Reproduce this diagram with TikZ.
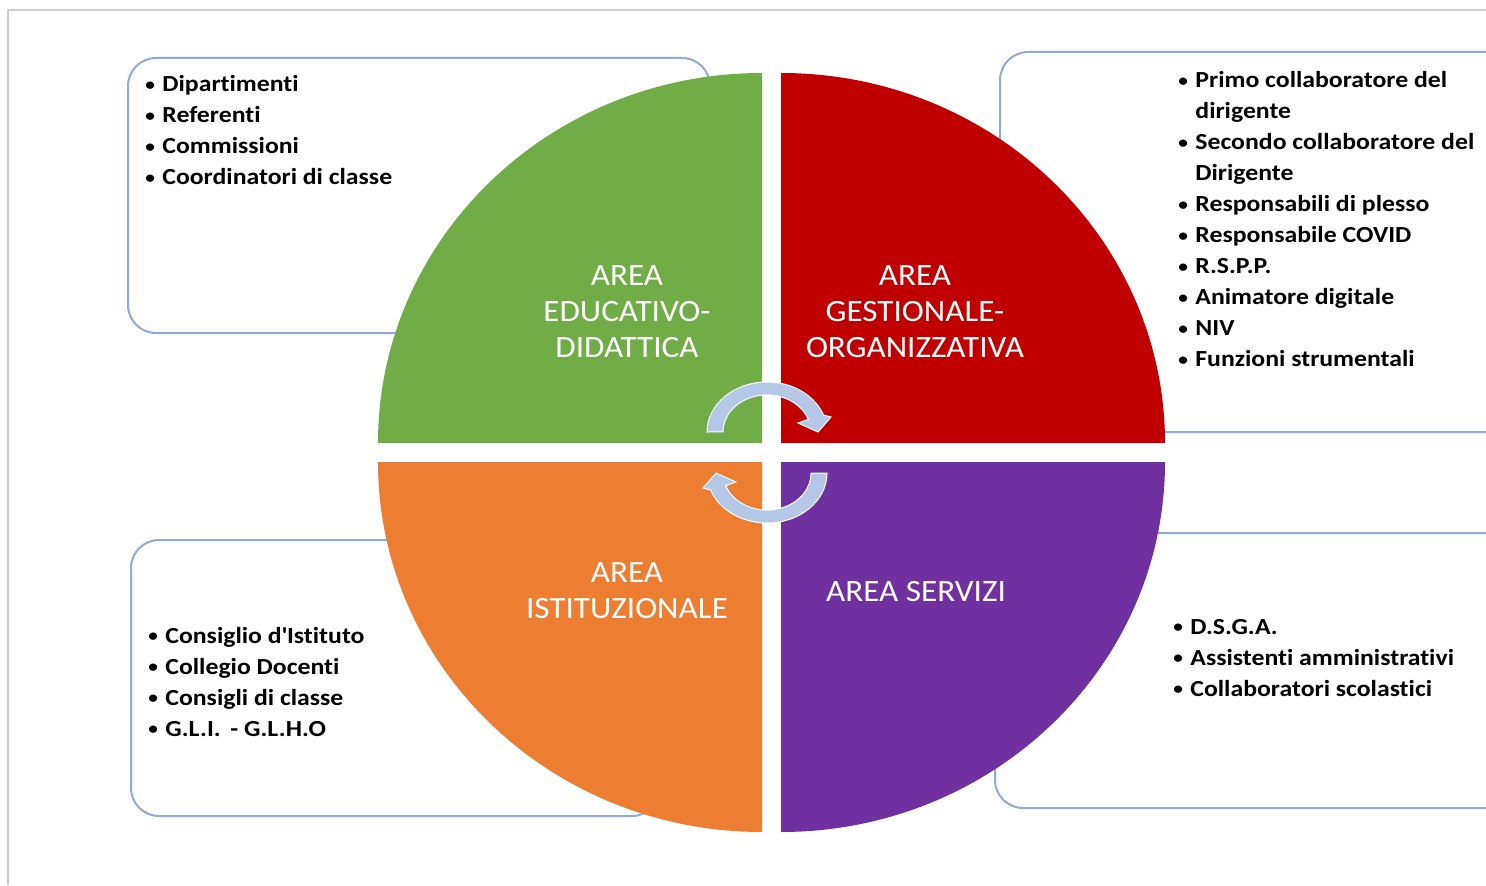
\documentclass[tikz,border=0pt]{standalone}
\usepackage{fontspec}
\setmainfont{Carlito}
\newfontfamily\listfont{Carlito}[FakeStretch=1.12, Ligatures={NoCommon}]
\newfontfamily\areafont{Carlito}[FakeStretch=1.07]
\usepackage{tikz}
\definecolor{areagreen}{HTML}{70AD47}
\definecolor{areared}{HTML}{C00000}
\definecolor{areaorange}{HTML}{ED7D31}
\definecolor{areapurple}{HTML}{7030A0}
\definecolor{boxblue}{HTML}{8FAADC}
\definecolor{cyclefill}{HTML}{B4C7E7}
\newcommand{\itm}[1]{\makebox[8.5pt][l]{\raisebox{0.9pt}{\scalebox{0.75}{\textbullet}}}#1}
\newcommand{\cnt}[1]{\hspace*{8.5pt}#1}
\tikzset{
  listbox/.style={draw=boxblue, line width=1pt, rounded corners=14pt, fill=white},
  listtext/.style={anchor=west, inner sep=0pt, align=left, font=\listfont\fontsize{11.5}{15.5}\selectfont\bfseries},
  arealabel/.style={text=white, align=center, inner sep=0pt, font=\areafont\fontsize{15.5}{18}\selectfont},
  cyclearrow/.style={fill=cyclefill, draw=white, line width=0.5pt}
}
\begin{document}
\begin{tikzpicture}[x=0.5pt,y=0.5pt]
        \useasboundingbox (0,0) rectangle (1486,885);
        \clip (0,0) rectangle (1486,885);
        \fill[white] (0,0) rectangle (1486,885);
        \draw[color=black!20, line width=1pt] (8,0) -- (8,875) -- (1490,875); % frame
        % boxes behind the circle
        \draw[listbox] (128,552) rectangle (710,827);
        \draw[listbox] (1000,453) rectangle (1530,833);
        \draw[listbox] (131,69) rectangle (660,345);
        \draw[listbox] (995,77) rectangle (1530,352);
        % the four quarters
        \fill[areagreen] (762,442) -- (378,442) arc[start angle=180, end angle=90, x radius=384, y radius=370] -- cycle;
        \fill[areared] (781,442) -- (781,812) arc[start angle=90, end angle=0, x radius=384, y radius=370] -- cycle;
        \fill[areaorange] (762,423) -- (378,423) arc[start angle=180, end angle=270, x radius=384, y radius=370] -- cycle;
        \fill[areapurple] (781,423) -- (1165,423) arc[start angle=0, end angle=-90, x radius=384, y radius=370] -- cycle;
        \node[arealabel] (educ) at (627,573) {AREA\\EDUCATIVO-\\DIDATTICA};
        \node[arealabel] (gest) at (915,573) {AREA\\GESTIONALE-\\ORGANIZZATIVA};
        \node[arealabel] (ist) at (627,294) {AREA\\ISTITUZIONALE};
        \node[arealabel] (serv) at (916,293) {AREA SERVIZI};
        % arrows in the middle
        \foreach \r in {0,180}
        \draw[cyclearrow, rotate around={\r:(767,432.5)}] (707,453) arc[start angle=180, end angle=20, x radius=60, y radius=50]
          -- (831,468) -- (818,453) -- (798,462) -- (808.3,465.7)
          arc[start angle=20, end angle=180, x radius=44, y radius=37] -- cycle;
        % lists
        \node[listtext] (didlist) at (145,754.5) {\itm{Dipartimenti}\\\itm{Referenti}\\\itm{Commissioni}\\\itm{Coordinatori di classe}};
        \node[listtext] (orglist) at (1178,665.5) {\itm{Primo collaboratore del}\\\cnt{dirigente}\\\itm{Secondo collaboratore del}\\\cnt{Dirigente}\\\itm{Responsabili di plesso}\\\itm{Responsabile COVID}\\\itm{R.S.P.P.}\\\itm{Animatore digitale}\\\itm{NIV}\\\itm{Funzioni strumentali}};
        \node[listtext] (istlist) at (148,203) {\itm{Consiglio d\textquotesingle Istituto}\\\itm{Collegio Docenti}\\\itm{Consigli di classe}\\\itm{G.L.I. \,- G.L.H.O}};
        \node[listtext] (servlist) at (1173,227) {\itm{D.S.G.A.}\\\itm{Assistenti amministrativi}\\\itm{Collaboratori scolastici}};
\end{tikzpicture}
\end{document}
